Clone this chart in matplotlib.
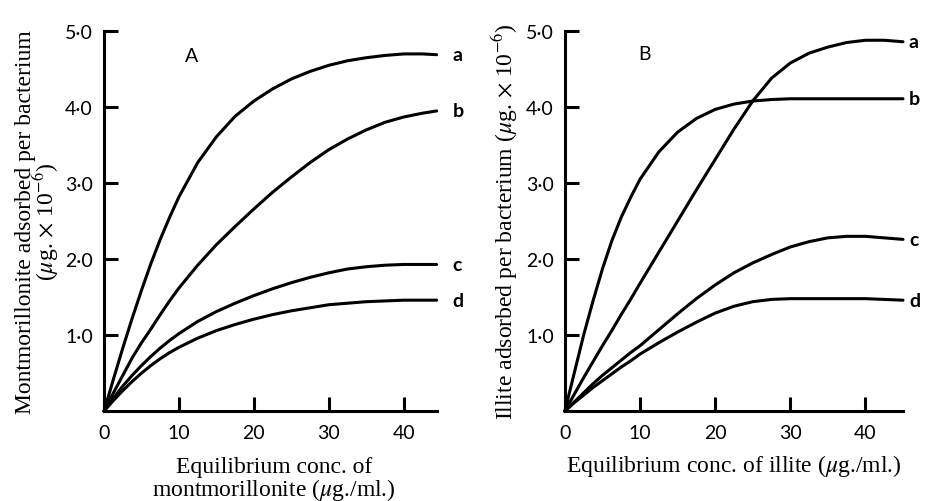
import matplotlib
matplotlib.use("Agg")
import matplotlib.pyplot as plt

plt.rcParams["mathtext.fontset"] = "stix"

# montmorillonite uptake (panel A)
conc_a = [0, 1.25, 2.5, 3.75, 5, 6.25, 7.5, 8.75, 10, 12.5, 15, 17.5, 20, 22.5, 25,
          27.5, 30, 32.5, 35, 37.5, 40, 42.5, 44.4]
mont_a = [0, 0.42, 0.83, 1.22, 1.59, 1.94, 2.26, 2.55, 2.82, 3.27, 3.61, 3.88, 4.08, 4.24, 4.37,
          4.47, 4.55, 4.61, 4.65, 4.68, 4.7, 4.7, 4.69]
mont_b = [0, 0.24, 0.47, 0.7, 0.9, 1.08, 1.27, 1.45, 1.62, 1.92, 2.19, 2.43, 2.66, 2.88, 3.08,
          3.27, 3.44, 3.58, 3.7, 3.8, 3.87, 3.92, 3.95]
mont_c = [0, 0.17, 0.33, 0.47, 0.6, 0.72, 0.83, 0.93, 1.02, 1.18, 1.31, 1.42, 1.52, 1.61, 1.69,
          1.76, 1.82, 1.87, 1.9, 1.92, 1.93, 1.93, 1.93]
mont_d = [0, 0.14, 0.27, 0.39, 0.5, 0.6, 0.69, 0.77, 0.84, 0.96, 1.06, 1.14, 1.21, 1.27, 1.32,
          1.36, 1.4, 1.42, 1.44, 1.45, 1.46, 1.46, 1.46]

# illite uptake (panel B)
conc_b = [0, 1.25, 2.5, 3.75, 5, 6.25, 7.5, 8.75, 10, 12.5, 15, 17.5, 20, 22.5, 25,
          27.5, 30, 32.5, 35, 37.5, 40, 42.5, 45]
ill_a = [0, 0.22, 0.44, 0.65, 0.86, 1.06, 1.27, 1.47, 1.68, 2.09, 2.5, 2.91, 3.31, 3.71, 4.08,
         4.38, 4.58, 4.71, 4.79, 4.85, 4.88, 4.88, 4.86]
ill_b = [0, 0.5, 1.0, 1.45, 1.87, 2.24, 2.55, 2.81, 3.05, 3.41, 3.67, 3.85, 3.97, 4.04, 4.08,
         4.1, 4.11, 4.11, 4.11, 4.11, 4.11, 4.11, 4.11]
ill_c = [0, 0.12, 0.24, 0.36, 0.47, 0.57, 0.67, 0.77, 0.86, 1.07, 1.28, 1.48, 1.66, 1.82, 1.95,
         2.06, 2.16, 2.23, 2.28, 2.3, 2.3, 2.28, 2.26]
ill_d = [0, 0.11, 0.21, 0.31, 0.4, 0.49, 0.58, 0.66, 0.75, 0.9, 1.04, 1.17, 1.29, 1.38, 1.44,
         1.47, 1.48, 1.48, 1.48, 1.48, 1.48, 1.47, 1.46]

curve_names = ["a", "b", "c", "d"]
x_ticks = [0, 10, 20, 30, 40]
y_ticks = [1, 2, 3, 4, 5]
y_tick_labels = ["1·0", "2·0", "3·0", "4·0", "5·0"]

serif = "Liberation Serif"
sans = "Lato"

fig = plt.figure(figsize=(9.29, 5.02), dpi=100)
ax1 = fig.add_axes([0.112, 0.179, 0.358, 0.757])
ax2 = fig.add_axes([0.608, 0.179, 0.364, 0.757])


def style_axis(ax, xmax):
    ax.set_xlim(0, xmax)
    ax.set_ylim(0, 5)
    for side in ["top", "right"]:
        ax.spines[side].set_visible(False)
    for side in ["left", "bottom"]:
        ax.spines[side].set_linewidth(2.2)
    ax.set_xticks(x_ticks)
    ax.set_xticklabels([str(t) for t in x_ticks], fontfamily=sans, fontsize=14)
    ax.set_yticks(y_ticks)
    ax.set_yticklabels(y_tick_labels, fontfamily=sans, fontsize=14)
    ax.tick_params(direction="in", length=10, width=2.2, pad=8)
    ax.tick_params(axis="x", pad=9)


def draw_curves(ax, x, series, label_x):
    for name, y in zip(curve_names, series):
        ax.plot(x, y, color="black", lw=2.2, solid_capstyle="round",
                solid_joinstyle="round", clip_on=False)
        ax.text(label_x, y[-1], name, fontfamily=sans, fontsize=14, fontweight="bold",
                ha="left", va="center", clip_on=False)


style_axis(ax1, 44.4)
draw_curves(ax1, conc_a, [mont_a, mont_b, mont_c, mont_d], 46.5)
ax1.text(11.7, 4.68, "A", fontfamily=sans, fontsize=14, ha="center", va="center")
ax1.set_ylabel("Montmorillonite adsorbed per bacterium\n" + r"($\mu$g. $\times$ 10$^{-6}$)",
               fontfamily=serif, fontsize=17, linespacing=0.78)
ax1.yaxis.set_label_coords(-0.199, 0.5, transform=ax1.transAxes)
ax1.yaxis.label.set_va("center")
ax1.set_xlabel("Equilibrium conc. of\nmontmorillonite ($\\mu$g./ml.)",
               fontfamily=serif, fontsize=17, linespacing=0.95)
ax1.xaxis.set_label_coords(0.51, -0.118, transform=ax1.transAxes)
ax1.xaxis.label.set_va("top")

style_axis(ax2, 45)
draw_curves(ax2, conc_b, [ill_a, ill_b, ill_c, ill_d], 45.8)
ax2.text(10.6, 4.7, "B", fontfamily=sans, fontsize=14, ha="center", va="center")
ax2.set_ylabel(r"Illite adsorbed per bacterium ($\mu$g. $\times$ 10$^{-6}$)",
               fontfamily=serif, fontsize=17, labelpad=4)
ax2.set_xlabel(r"Equilibrium conc. of illite ($\mu$g./ml.)",
               fontfamily=serif, fontsize=17, labelpad=8)

fig.savefig("out.png", dpi=100)
